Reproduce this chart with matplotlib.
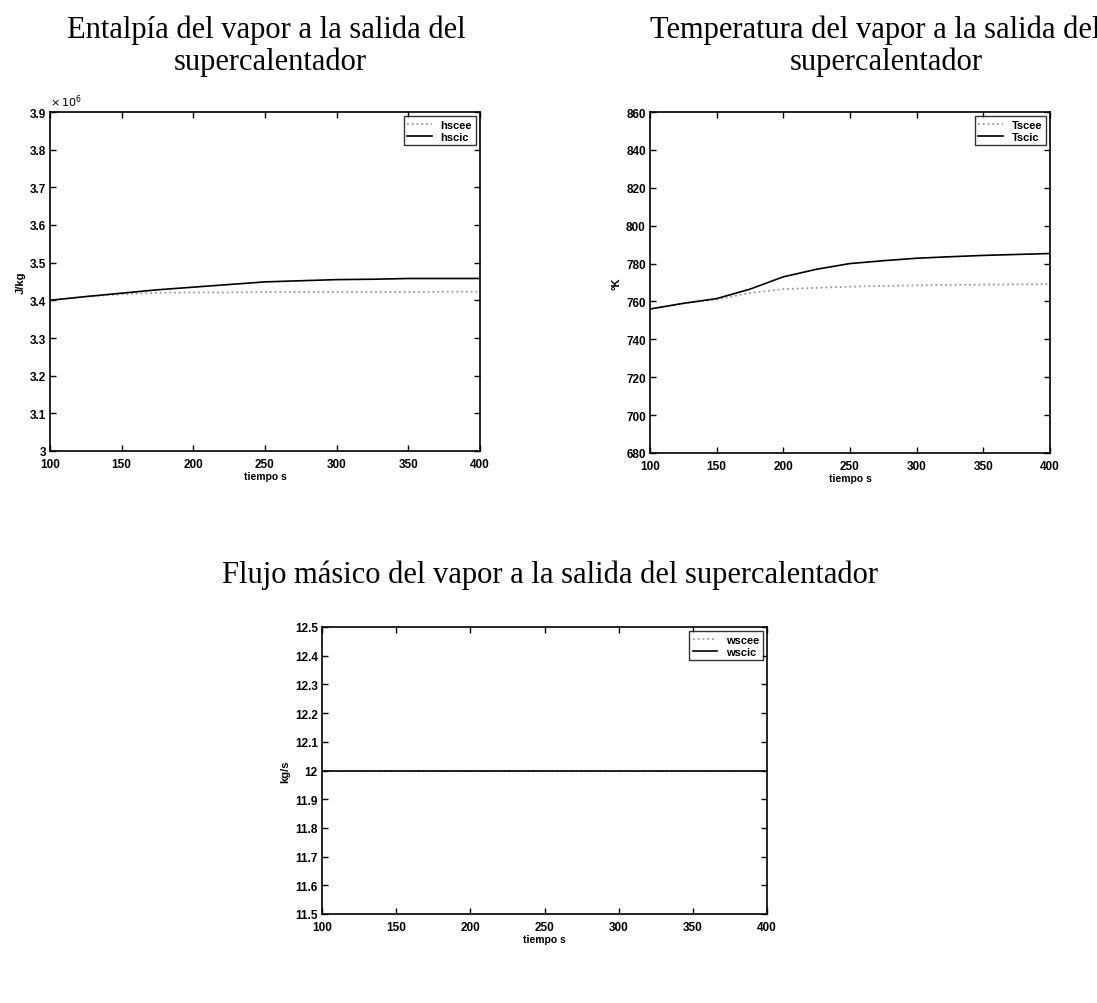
import matplotlib
matplotlib.use("Agg")
import matplotlib.pyplot as plt
from matplotlib.ticker import FixedLocator, FuncFormatter

# Time axis (s)
t = [100, 125, 150, 175, 200, 225, 250, 275, 300, 325, 350, 375, 400]

# Enthalpy at superheater outlet (J/kg)
hscee = [3.400e6, 3.410e6, 3.416e6, 3.420e6, 3.421e6, 3.421e6, 3.422e6, 3.422e6, 3.422e6, 3.422e6, 3.422e6, 3.423e6, 3.423e6]
hscic = [3.400e6, 3.410e6, 3.419e6, 3.428e6, 3.435e6, 3.442e6, 3.449e6, 3.452e6, 3.455e6, 3.456e6, 3.458e6, 3.458e6, 3.458e6]

# Steam temperature at superheater outlet (K)
Tscee = [756.0, 759.0, 761.0, 764.5, 766.5, 767.2, 767.8, 768.2, 768.5, 768.7, 768.9, 769.0, 769.1]
Tscic = [756.0, 759.0, 761.5, 766.5, 773.0, 777.0, 780.0, 781.5, 782.8, 783.6, 784.3, 784.8, 785.3]

# Steam mass flow at superheater outlet (kg/s)
wscee = [12.0] * len(t)
wscic = [12.0] * len(t)

# Axis ticks
xticks = [100, 150, 200, 250, 300, 350, 400]
h_ticks = [3.0e6, 3.1e6, 3.2e6, 3.3e6, 3.4e6, 3.5e6, 3.6e6, 3.7e6, 3.8e6, 3.9e6]
T_ticks = [680, 700, 720, 740, 760, 780, 800, 820, 840, 860]
w_ticks = [11.5, 11.6, 11.7, 11.8, 11.9, 12.0, 12.1, 12.2, 12.3, 12.4, 12.5]

W, H = 1097, 1004
fig = plt.figure(figsize=(W / 100, H / 100), dpi=100)
fig.patch.set_facecolor("white")

serif = ["Liberation Serif", "DejaVu Serif"]
sans = ["Liberation Sans", "DejaVu Sans"]


def px_axes(left, top, right, bottom):
    return fig.add_axes([left / W, 1 - bottom / H, (right - left) / W, (bottom - top) / H])


def style(ax, ylabel, yticks, scale=1.0):
    ax.set_xlim(100, 400)
    ax.set_ylim(yticks[0], yticks[-1])
    ax.xaxis.set_major_locator(FixedLocator(xticks))
    ax.yaxis.set_major_locator(FixedLocator(yticks))
    ax.yaxis.set_major_formatter(FuncFormatter(lambda v, p: "%g" % round(v / scale, 6)))
    ax.tick_params(direction="in", top=True, right=True, length=4, width=1,
                   labelsize=8.5)
    ax.tick_params(axis="x", pad=5)
    ax.tick_params(axis="y", pad=3)
    for lab in ax.get_xticklabels() + ax.get_yticklabels():
        lab.set_fontfamily(sans)
        lab.set_fontweight("bold")
    for sp in ax.spines.values():
        sp.set_linewidth(1.2)
    ax.set_xlabel("tiempo s", fontsize=7.5, fontweight="bold", family=sans, labelpad=1)
    ax.set_ylabel(ylabel, fontsize=8, fontweight="bold", family=sans, labelpad=3)


def legend(ax, labels):
    leg = ax.legend(labels, loc="upper right", frameon=True,
                    fancybox=False, handlelength=2.2, borderpad=0.3,
                    labelspacing=0.2, borderaxespad=0.4,
                    prop={"family": sans, "weight": "bold", "size": 8})
    leg.get_frame().set_edgecolor("black")
    leg.get_frame().set_linewidth(1.0)


cee_kw = dict(color="#9a9a9a", linestyle=":", linewidth=1.3)
cic_kw = dict(color="black", linestyle="-", linewidth=1.2)

# Enthalpy
ax1 = px_axes(50, 113, 480, 452)
ax1.plot(t, hscee, **cee_kw)
ax1.plot(t, hscic, **cic_kw)
style(ax1, "J/kg", h_ticks, scale=1e6)
ax1.text(0.0, 1.01, r"$\times\,10^{6}$", transform=ax1.transAxes, ha="left", va="bottom",
         fontsize=8, fontweight="bold")
legend(ax1, ["hscee", "hscic"])

# Temperature
ax2 = px_axes(650, 113, 1050, 454)
ax2.plot(t, Tscee, **cee_kw)
ax2.plot(t, Tscic, **cic_kw)
style(ax2, "°K", T_ticks)
legend(ax2, ["Tscee", "Tscic"])

# Mass flow
ax3 = px_axes(322, 628, 767, 915)
ax3.plot(t, wscee, **cee_kw)
ax3.plot(t, wscic, **cic_kw)
style(ax3, "kg/s", w_ticks)
legend(ax3, ["wscee", "wscic"])

# Titles
tkw = dict(family=serif, fontsize=22, ha="center", va="center")
fig.text(266 / W, 1 - 30 / H, "Entalpía del vapor a la salida del", **tkw)
fig.text(270 / W, 1 - 62 / H, "supercalentador", **tkw)
fig.text(875 / W, 1 - 30 / H, "Temperatura del vapor a la salida del", **tkw)
fig.text(886 / W, 1 - 62 / H, "supercalentador", **tkw)
fig.text(550 / W, 1 - 575 / H, "Flujo másico del vapor a la salida del supercalentador", **tkw)

fig.savefig("out.png", dpi=100, facecolor="white")
